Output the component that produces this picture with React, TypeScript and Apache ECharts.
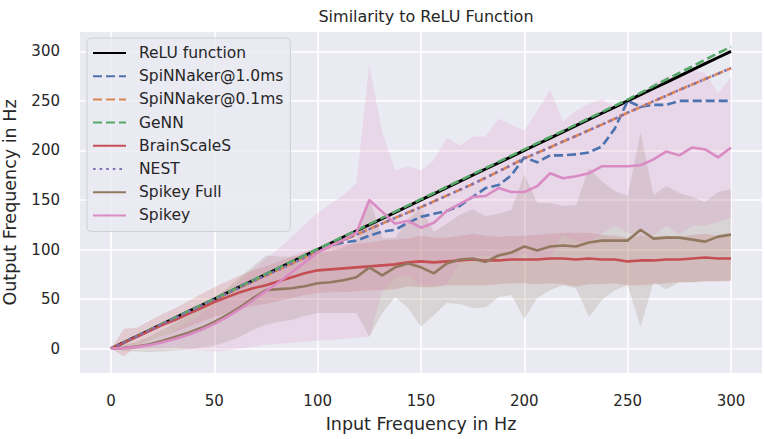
import React, { useEffect, useRef } from "react";
import * as echarts from "echarts";

const inputHz = [0, 6.25, 12.5, 18.75, 25, 31.25, 37.5, 43.75, 50, 56.25, 62.5, 68.75, 75, 81.25, 87.5, 93.75, 100, 106.25, 112.5, 118.75, 125, 131.25, 137.5, 143.75, 150, 156.25, 162.5, 168.75, 175, 181.25, 187.5, 193.75, 200, 206.25, 212.5, 218.75, 225, 231.25, 237.5, 243.75, 250, 256.25, 262.5, 268.75, 275, 281.25, 287.5, 293.75, 300];

const reluHz = [0, 6.25, 12.5, 18.75, 25, 31.25, 37.5, 43.75, 50, 56.25, 62.5, 68.75, 75, 81.25, 87.5, 93.75, 100, 106.25, 112.5, 118.75, 125, 131.25, 137.5, 143.75, 150, 156.25, 162.5, 168.75, 175, 181.25, 187.5, 193.75, 200, 206.25, 212.5, 218.75, 225, 231.25, 237.5, 243.75, 250, 256.25, 262.5, 268.75, 275, 281.25, 287.5, 293.75, 300];

const spinnaker10 = [0, 6.2, 12.5, 18.7, 25, 31.2, 37.5, 43.5, 50, 56, 62.5, 68.5, 75, 81, 87, 93.5, 100, 104, 107, 109, 114, 118, 120, 127, 133, 136, 139, 144, 153, 162, 165, 175, 193, 188, 195, 195, 196, 198, 204, 222, 250, 244, 246, 246, 250, 250, 250, 250, 250];

const spinnaker01 = [0, 6.2, 12.4, 18.6, 24.8, 31, 37.2, 43.3, 49.5, 55.6, 61.7, 67.8, 73.8, 79.8, 85.8, 91.8, 97.7, 103.5, 109.3, 115, 120.7, 126.3, 131.9, 137.4, 142.8, 148.6, 154.4, 160.2, 166, 172.4, 178.7, 185.3, 192, 197.5, 203.2, 209, 214.6, 220.3, 226, 232, 238, 243.8, 249.6, 255.3, 261, 266.5, 272, 277.5, 283];

const genn = [0, 6.3, 12.6, 18.8, 25.1, 31.4, 37.7, 44, 50.3, 56.5, 62.8, 69.1, 75.4, 81.7, 88, 94.2, 100.5, 106.8, 113.1, 119.3, 125.6, 131.9, 138.2, 144.5, 150.8, 157, 163.3, 169.6, 175.9, 182.2, 188.4, 194.7, 201, 207.3, 213.6, 219.8, 226.1, 232.4, 238.7, 245, 251.3, 258, 264.8, 271.6, 278.2, 284.8, 291.5, 298.2, 304.5];

const brainScaleS = [0, 6, 12, 18, 24, 29, 35, 41, 47, 52, 57, 61, 64, 68, 72, 76, 79, 80, 81, 82, 83, 84, 85, 87, 88, 87, 88, 89, 90, 89, 89, 90, 90, 90, 91, 91, 90, 91, 90, 90, 88, 89, 89, 90, 90, 91, 92, 91, 91];

const nest = [0, 6.2, 12.4, 18.6, 24.9, 31, 37.1, 43.3, 49.4, 55.6, 61.8, 67.8, 73.9, 79.8, 85.9, 91.8, 97.6, 103.5, 109.4, 115.1, 120.6, 126.3, 132, 137.3, 142.9, 148.5, 154.4, 160.3, 166.1, 172.3, 178.8, 185.2, 191.9, 197.6, 203.1, 209.1, 214.5, 220.4, 226.1, 231.9, 238.1, 243.7, 249.7, 255.2, 261.1, 266.4, 272.1, 277.4, 283.1];

const spikeyFull = [0, 0.8, 2, 4.5, 8, 12, 16, 21, 27, 34, 42, 51, 59, 60, 61, 63, 66, 67, 69, 72, 82, 74, 82, 86, 82, 76, 86, 90, 91, 87.5, 94, 97, 103, 99, 103, 104, 103, 107, 109, 109, 109, 120, 111, 112, 112, 110, 108, 113, 115];

const spikey = [0, 0.5, 1.5, 3.5, 6.5, 10, 14, 19, 25, 32, 40, 49, 58, 67, 77, 87, 97, 104, 110, 117, 150, 138, 126, 129, 122, 127, 139, 146, 153, 154, 162, 158, 158, 164, 177, 172, 174, 177, 184, 184, 184, 185, 191, 199, 195, 203, 201, 193, 203];

// error bands: half widths (BrainScaleS, Spikey Full) and edges (Spikey)
const brainScaleSSd = [0, 14, 9, 10, 11, 12, 13, 14, 15, 16, 17, 18, 19, 20, 21, 22, 23, 23, 24, 24, 24, 25, 25, 24, 26, 25, 24, 25, 26, 25, 24, 24, 24, 25, 25, 26, 27, 26, 25, 24, 24, 25, 24, 24, 23, 24, 24, 23, 23];

const spikeyFullSd = [0, 3, 5, 8, 11, 14, 17, 20, 24, 27, 30, 32, 35, 33, 32, 30, 30, 31, 33, 36, 70, 38, 30, 45, 60, 42, 40, 45, 50, 46, 42, 43, 73, 48, 44, 40, 42, 75, 60, 50, 45, 98, 44, 52, 45, 43, 40, 45, 46];

const spikeyLow = [0, -0.5, -0.5, -0.5, 0.5, 1, -1, -2, -3, -2, 0, 2, 4, 5, 6, 7, 8, 9, 10, 11, 12, 58, 72, 74, 64, 64, 65, 87, 92, 94, 92, 90, 96, 88, 93, 115, 108, 107, 116, 124, 117, 114, 114, 124, 115, 124, 124, 128, 132];

const spikeyHigh = [0, 1.5, 3.5, 7.5, 12.5, 19, 26, 35, 45, 56, 68, 80, 91, 101, 113, 125, 137, 146, 155, 167, 286, 218, 180, 184, 180, 190, 213, 205, 214, 214, 232, 226, 220, 240, 261, 229, 240, 247, 252, 244, 251, 256, 268, 274, 275, 282, 278, 258, 274];

const tickValues = [0, 50, 100, 150, 200, 250, 300];

const FONT = "DejaVu Sans";
const TEXT = "#262626";

const pairs = (ys: number[]) => inputHz.map((x, i) => [x, ys[i]]);

function bandSeries(id: string, low: number[], high: number[], fill: string) {
  const data = inputHz.map((x, i) => [x, low[i], high[i]]);
  return {
    type: "custom",
    id,
    silent: true,
    data,
    encode: { x: 0, y: [1, 2] },
    clip: true,
    renderItem: (params: any, api: any) => {
      if (params.dataIndex !== 0) return null;
      const upper = data.map((d) => api.coord([d[0], d[2]]));
      const lower = data.map((d) => api.coord([d[0], d[1]])).reverse();
      return {
        type: "polygon",
        shape: { points: upper.concat(lower) },
        style: { fill, stroke: null },
      };
    },
  };
}

function lineSeries(name: string, ys: number[], color: string, type: any, width = 2.6) {
  return {
    type: "line",
    name,
    data: pairs(ys),
    symbol: "none",
    showSymbol: false,
    clip: true,
    itemStyle: { color },
    lineStyle: { color, width, type, cap: "butt" },
  };
}

const legendNames = ["ReLU function", "SpiNNaker@1.0ms", "SpiNNaker@0.1ms", "GeNN", "BrainScaleS", "NEST", "Spikey Full", "Spikey"];

export default function App() {
  const ref = useRef<HTMLDivElement>(null);
  useEffect(() => {
    document.body.style.margin = "0";
    const chart = echarts.init(ref.current!, null, { renderer: "svg" });
    const bssLow = brainScaleS.map((m, i) => m - brainScaleSSd[i]);
    const bssHigh = brainScaleS.map((m, i) => m + brainScaleSSd[i]);
    const sfLow = spikeyFull.map((m, i) => m - spikeyFullSd[i]);
    const sfHigh = spikeyFull.map((m, i) => m + spikeyFullSd[i]);
    const option: any = {
      animation: false,
      backgroundColor: "#ffffff",
      title: {
        text: "Similarity to ReLU Function",
        left: 421,
        top: 3,
        textAlign: "center",
        textStyle: { fontSize: 16, fontWeight: "normal", color: TEXT, fontFamily: FONT },
      },
      grid: {
        left: 80,
        top: 32,
        width: 682,
        height: 341,
        show: true,
        backgroundColor: "#EAEAF2",
        borderWidth: 0,
        containLabel: false,
        outerBoundsMode: "none",
      },
      xAxis: {
        type: "value",
        min: -15,
        max: 315,
        name: "Input Frequency in Hz",
        nameLocation: "middle",
        nameGap: 42,
        nameTextStyle: { fontSize: 17.5, color: TEXT, fontFamily: FONT },
        axisLine: { show: false },
        axisTick: { show: false, customValues: tickValues },
        axisLabel: { customValues: tickValues, fontSize: 15, color: TEXT, fontFamily: FONT, margin: 20 },
        splitLine: { show: true, lineStyle: { color: "#ffffff", width: 1.6 } },
      },
      yAxis: {
        type: "value",
        min: -24.6,
        max: 319.5,
        name: "Output Frequency in Hz",
        nameLocation: "middle",
        nameGap: 61,
        nameTextStyle: { fontSize: 17.5, color: TEXT, fontFamily: FONT },
        axisLine: { show: false },
        axisTick: { show: false, customValues: tickValues },
        axisLabel: { customValues: tickValues, fontSize: 15, color: TEXT, fontFamily: FONT, margin: 20 },
        splitLine: { show: true, lineStyle: { color: "#ffffff", width: 1.6 } },
      },
      legend: {
        orient: "vertical",
        left: 87,
        top: 38,
        data: legendNames,
        itemWidth: 33,
        itemHeight: 14,
        itemGap: 7.2,
        padding: [7, 7, 8, 5],
        backgroundColor: "rgba(234,234,242,0.8)",
        borderColor: "#cfcfd6",
        borderWidth: 1,
        borderRadius: 4,
        itemStyle: { opacity: 0 },
        textStyle: { fontSize: 15.5, lineHeight: 15, color: TEXT, fontFamily: FONT, padding: [0, 0, 0, 8] },
      },
      series: [
        bandSeries("bssBand", bssLow, bssHigh, "rgba(196,78,82,0.2)"),
        bandSeries("spikeyFullBand", sfLow, sfHigh, "rgba(147,120,96,0.2)"),
        bandSeries("spikeyBand", spikeyLow, spikeyHigh, "rgba(218,139,195,0.2)"),
        lineSeries("ReLU function", reluHz, "#000000", "solid", 3),
        lineSeries("SpiNNaker@1.0ms", spinnaker10, "#4C72B0", [9, 4]),
        lineSeries("SpiNNaker@0.1ms", spinnaker01, "#DD8452", [9, 4]),
        lineSeries("GeNN", genn, "#55A868", [9, 4]),
        lineSeries("BrainScaleS", brainScaleS, "#C44E52", "solid"),
        lineSeries("NEST", nest, "#8172B3", [2.6, 4]),
        lineSeries("Spikey Full", spikeyFull, "#937860", "solid"),
        lineSeries("Spikey", spikey, "#DA8BC3", "solid"),
      ],
    };
    chart.setOption(option);
    return () => chart.dispose();
  }, []);
  return <div ref={ref} style={{ width: 765, height: 439 }} />;
}
